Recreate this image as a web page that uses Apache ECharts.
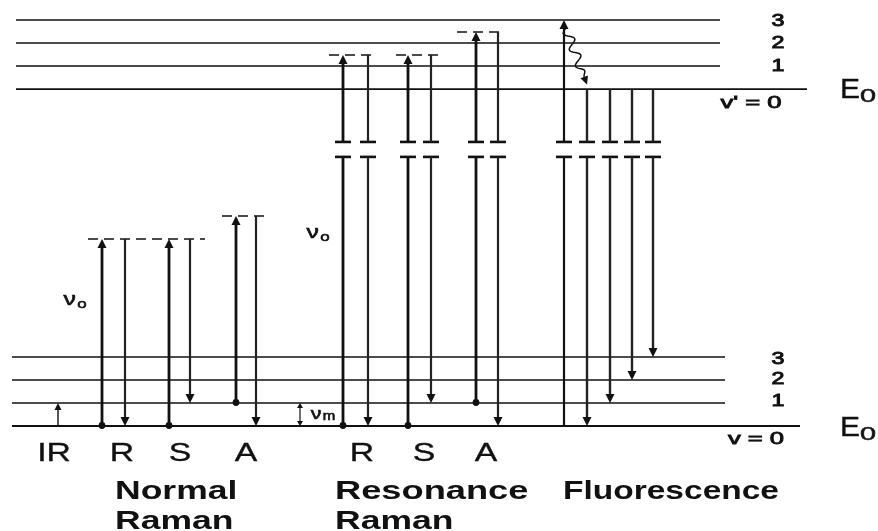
<!DOCTYPE html>
<html>
<head>
<meta charset="utf-8">
<script src="https://cdn.jsdelivr.net/npm/echarts@6/dist/echarts.min.js"></script>
<style>
html, body { margin: 0; padding: 0; background: #fff; }
#chart { width: 878px; height: 531px; }
</style>
</head>
<body>
<div id="chart"></div>
<script>
// energies in units of one vibrational quantum above v = 0
const groundLevels = [0, 1, 2, 3]
const excitedLevels = [14.65, 15.65, 16.65, 17.65]
// virtual levels: [xFrom, xTo, energy]
const virtualLevels = [
  [88, 205, 8.13],
  [222, 270, 9.13],
  [329, 377, 16.13],
  [396, 443, 16.13],
  [457, 505, 17.13],
]
// transitions: [x, fromEnergy, toEnergy]
const irAbsorption = [[58, 0, 1]]
const vibQuantum = [[300, 0, 1]]
const excitations = [
  [102, 0, 8.13], [169, 0, 8.13], [236, 1, 9.13],
  [343, 0, 16.13], [408, 0, 16.13], [476, 1, 17.13],
]
const emissions = [
  [125, 8.13, 0], [190, 8.13, 1], [256, 9.13, 0],
  [368, 16.13, 0], [431, 16.13, 1], [498, 17.13, 0],
]
const fluorAbsorption = [[564, 0, 17.65]]
const fluorEmission = [[587, 14.65, 0], [610, 14.65, 1], [632, 14.65, 2], [653, 14.65, 3]]
// non-radiative relaxation: [x1, e1, x2, e2]
const relaxation = [[566, 17.3, 587, 14.85]]

const columnLabels = [['IR', 54], ['R', 122], ['S', 180], ['A', 246], ['R', 362], ['S', 424], ['A', 486]]

const BREAK_LOW = 11.7
const BREAK_HIGH = 12.35
const INK = '#111'
const FONT = '"Liberation Sans", Arial, sans-serif'

function levelSeries(levels, xStart, xEnd, xEndBase) {
  return {
    type: 'custom',
    coordinateSystem: 'cartesian2d',
    clip: false,
    silent: true,
    data: levels.map((e) => [e]),
    encode: { y: 0 },
    renderItem: (params, api) => {
      const e = api.value(0)
      const p1 = api.coord([xStart, e])
      const p2 = api.coord([params.dataIndex === 0 ? xEndBase : xEnd, e])
      return {
        type: 'line',
        shape: { x1: p1[0], y1: p1[1], x2: p2[0], y2: p2[1] },
        style: { stroke: INK, lineWidth: params.dataIndex === 0 ? 1.8 : 1.5 },
      }
    },
  }
}

function virtualSeries() {
  return {
    type: 'custom',
    coordinateSystem: 'cartesian2d',
    clip: false,
    silent: true,
    data: virtualLevels,
    encode: { x: [0, 1], y: 2 },
    renderItem: (params, api) => {
      const p1 = api.coord([api.value(0), api.value(2)])
      const p2 = api.coord([api.value(1), api.value(2)])
      return {
        type: 'line',
        shape: { x1: p1[0], y1: p1[1], x2: p2[0], y2: p2[1] },
        style: { stroke: INK, lineWidth: 1.6, lineDash: [10, 6] },
      }
    },
  }
}

function transitionSeries(data, opt) {
  return {
    type: 'custom',
    coordinateSystem: 'cartesian2d',
    clip: false,
    silent: true,
    data,
    encode: { x: 0, y: [1, 2] },
    renderItem: (params, api) => {
      const x = api.value(0)
      const from = api.value(1)
      const to = api.value(2)
      const pA = api.coord([x, from])
      const pB = api.coord([x, to])
      const px = pA[0]
      const dir = pB[1] < pA[1] ? -1 : 1
      const hl = opt.headLen
      const hw = opt.headWidth / 2
      const children = []
      const startY = opt.both ? pA[1] + dir * hl : pA[1]
      const endY = pB[1] - dir * hl
      const segs = []
      const lo = Math.min(from, to)
      const hi = Math.max(from, to)
      if (lo < BREAK_LOW && hi > BREAK_HIGH) {
        const yLow = api.coord([x, BREAK_LOW])[1]
        const yHigh = api.coord([x, BREAK_HIGH])[1]
        const first = dir < 0 ? yLow : yHigh
        const second = dir < 0 ? yHigh : yLow
        segs.push([startY, first], [second, endY])
        for (const y of [yLow, yHigh]) {
          children.push({
            type: 'line',
            shape: { x1: px - 8, y1: y, x2: px + 8, y2: y },
            style: { stroke: INK, lineWidth: 2.6 },
          })
        }
      } else {
        segs.push([startY, endY])
      }
      for (const s of segs) {
        children.push({
          type: 'line',
          shape: { x1: px, y1: s[0], x2: px, y2: s[1] },
          style: { stroke: opt.color, lineWidth: opt.width },
        })
      }
      children.push({
        type: 'polygon',
        shape: { points: [[px, pB[1]], [px - hw, pB[1] - dir * hl], [px + hw, pB[1] - dir * hl]] },
        style: { fill: INK },
      })
      if (opt.both) {
        children.push({
          type: 'polygon',
          shape: { points: [[px, pA[1]], [px - hw, pA[1] + dir * hl], [px + hw, pA[1] + dir * hl]] },
          style: { fill: INK },
        })
      }
      if (opt.dot) {
        children.push({
          type: 'circle',
          shape: { cx: px, cy: pA[1] - 0.5, r: 3.4 },
          style: { fill: INK },
        })
      }
      return { type: 'group', children }
    },
  }
}

function relaxationSeries() {
  return {
    type: 'custom',
    coordinateSystem: 'cartesian2d',
    clip: false,
    silent: true,
    data: relaxation,
    encode: { x: [0, 2], y: [1, 3] },
    renderItem: (params, api) => {
      const a = api.coord([api.value(0), api.value(1)])
      const b = api.coord([api.value(2), api.value(3)])
      const dx = b[0] - a[0]
      const dy = b[1] - a[1]
      const len = Math.hypot(dx, dy)
      const ux = dx / len
      const uy = dy / len
      const bodyLen = len - 8
      const pts = []
      // wiggle drawn along the path (styling only)
      for (let i = 0; i <= 60; i++) {
        const t = i / 60
        const off = Math.sin(t * Math.PI * 6) * 4.5 * Math.min(1, (1 - t) * 6)
        pts.push([a[0] + ux * bodyLen * t - uy * off, a[1] + uy * bodyLen * t + ux * off])
      }
      const base = [a[0] + ux * bodyLen, a[1] + uy * bodyLen]
      return {
        type: 'group',
        children: [
          { type: 'polyline', shape: { points: pts }, style: { stroke: INK, lineWidth: 1.5, fill: null } },
          {
            type: 'polygon',
            shape: { points: [b, [base[0] - uy * 4, base[1] + ux * 4], [base[0] + uy * 4, base[1] - ux * 4]] },
            style: { fill: INK },
          },
        ],
      }
    },
  }
}

function txt(text, x, y, size, opts = {}) {
  return {
    type: 'text',
    x,
    y,
    scaleX: opts.scaleX || 1,
    silent: true,
    style: {
      text,
      font: `${opts.bold ? 'bold ' : ''}${size}px ${FONT}`,
      fill: INK,
      stroke: opts.bold ? null : INK,
      lineWidth: opts.bold ? 0 : (opts.weight || 0.7),
      align: opts.align || 'center',
      verticalAlign: 'middle',
      rich: opts.rich,
    },
  }
}

const labels = []
groundLevels.slice(1).forEach((e, i) => labels.push(txt(String(i + 1), 778, [402, 380, 360][i], 16, { scaleX: 1.45, weight: 0.9 })))
excitedLevels.slice(1).forEach((e, i) => labels.push(txt(String(i + 1), 778, [67, 44, 22][i], 16, { scaleX: 1.45, weight: 0.9 })))
labels.push(txt("v' = 0", 751, 104, 16, { scaleX: 1.6, weight: 0.8 }))
labels.push(txt('v = 0', 756, 440, 16, { scaleX: 1.6, weight: 0.8 }))
labels.push(txt('E', 850, 90, 28, { scaleX: 1.07, weight: 0.4 }))
labels.push(txt('0', 868, 97, 18, { scaleX: 1.6, weight: 0.5 }))
labels.push(txt('E', 850, 428, 28, { scaleX: 1.07, weight: 0.4 }))
labels.push(txt('0', 868, 435, 18, { scaleX: 1.6, weight: 0.5 }))
const nuRich = {
  n: { font: `19px ${FONT}`, fill: INK, stroke: INK, lineWidth: 0.6 },
  s: { font: `13px ${FONT}`, fill: INK, stroke: INK, lineWidth: 0.6, padding: [8, 0, 0, 1] },
}
labels.push(txt('{n|ν}{s|o}', 75, 300, 19, { scaleX: 1.3, rich: nuRich }))
labels.push(txt('{n|ν}{s|o}', 318, 233, 19, { scaleX: 1.3, rich: nuRich }))
labels.push(txt('{n|ν}{s|m}', 323, 414, 19, {
  scaleX: 1.25,
  rich: {
    n: { font: `17px ${FONT}`, fill: INK, stroke: INK, lineWidth: 0.6 },
    s: { font: `12px ${FONT}`, fill: INK, stroke: INK, lineWidth: 0.6, padding: [6, 0, 0, 1] },
  },
}))
columnLabels.forEach(([t, x]) => labels.push(txt(t, x, 454, 25, { scaleX: 1.35, weight: 0.35 })))
labels.push(txt('Normal', 115, 492, 25, { bold: true, align: 'left', scaleX: 1.42 }))
labels.push(txt('Raman', 115, 522, 25, { bold: true, align: 'left', scaleX: 1.42 }))
labels.push(txt('Resonance', 335, 492, 25, { bold: true, align: 'left', scaleX: 1.45 }))
labels.push(txt('Raman', 335, 522, 25, { bold: true, align: 'left', scaleX: 1.42 }))
labels.push(txt('Fluorescence', 563, 492, 25, { bold: true, align: 'left', scaleX: 1.34 }))

const chart = echarts.init(document.getElementById('chart'))
chart.setOption({
  animation: false,
  backgroundColor: '#fff',
  grid: { left: 0, right: 0, top: 12, bottom: 105 },
  xAxis: { type: 'value', min: 0, max: 878, show: false },
  yAxis: { type: 'value', min: 0, max: 18, show: false },
  series: [
    levelSeries(groundLevels, 12, 725, 800),
    levelSeries(excitedLevels, 16, 720, 807),
    virtualSeries(),
    transitionSeries(irAbsorption, { color: INK, width: 1.4, headLen: 7, headWidth: 7 }),
    transitionSeries(vibQuantum, { color: INK, width: 1.2, headLen: 5, headWidth: 6, both: true }),
    transitionSeries(excitations, { color: INK, width: 2.8, headLen: 9, headWidth: 9, dot: true }),
    transitionSeries(emissions, { color: '#222', width: 2.2, headLen: 9, headWidth: 9 }),
    transitionSeries(fluorAbsorption, { color: INK, width: 2.2, headLen: 9, headWidth: 9 }),
    transitionSeries(fluorEmission, { color: '#222', width: 2.4, headLen: 9, headWidth: 9 }),
    relaxationSeries(),
  ],
  graphic: labels,
})
</script>
</body>
</html>
